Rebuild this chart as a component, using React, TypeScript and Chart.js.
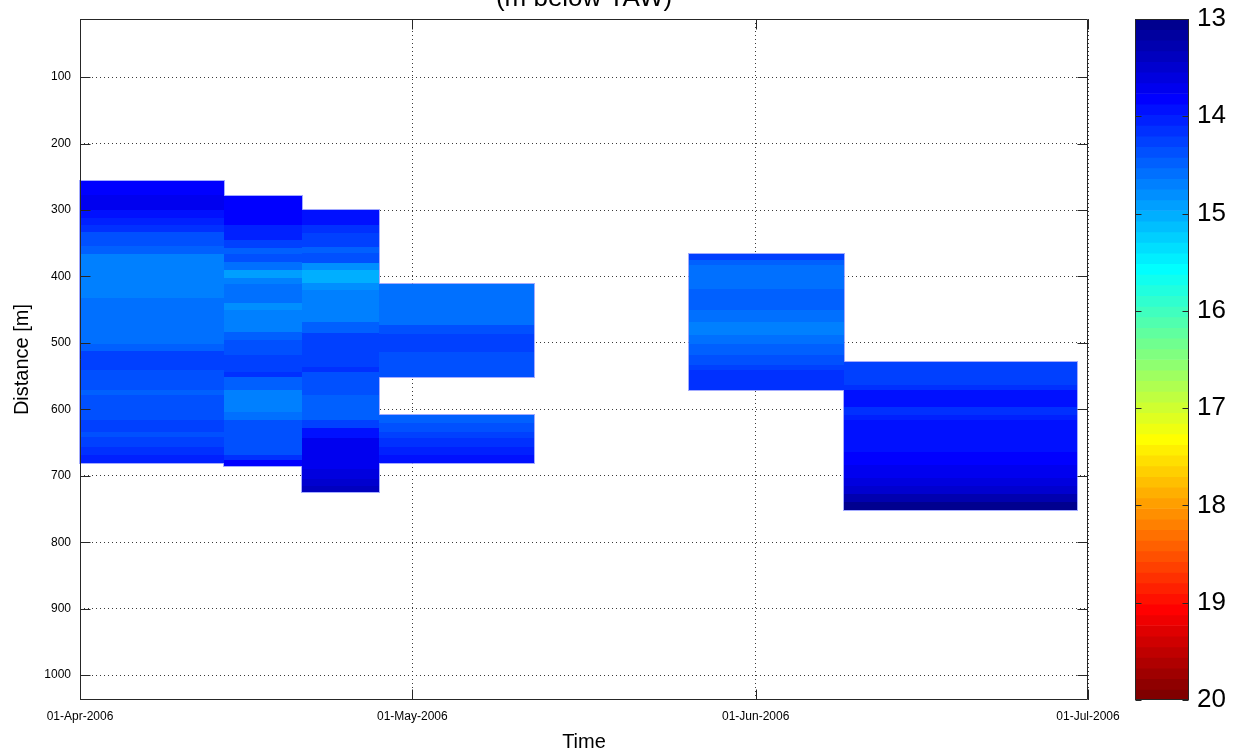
import React, { useEffect, useRef } from 'react';
import { Chart, registerables } from 'chart.js';

Chart.register(...registerables);

const FONT = "'Liberation Sans', Arial, Helvetica, sans-serif";

// ---------- axes / ticks ----------
const TITLE = '(m below TAW)';
const X_TITLE = 'Time';
const Y_TITLE = 'Distance [m]';
const X_START = '2006-04-01';
const X_END = '2006-07-01';
const X_TICK_DATES = ['2006-04-01', '2006-05-01', '2006-06-01', '2006-07-01'];
const X_TICK_LABELS = ['01-Apr-2006', '01-May-2006', '01-Jun-2006', '01-Jul-2006'];
const Y_MIN = 12.5;
const Y_MAX = 1037.5;
const Y_TICKS = [100, 200, 300, 400, 500, 600, 700, 800, 900, 1000];
const T_MIN = 13;
const T_MAX = 20;
const CB_TICKS = [13, 14, 15, 16, 17, 18, 19, 20];

// ---------- data: time columns ----------
const BLOCK_START = ['2006-04-01', '2006-04-14', '2006-04-21', '2006-04-28', '2006-05-26', '2006-06-09'];
const BLOCK_END = ['2006-04-14', '2006-04-21', '2006-04-28', '2006-05-12', '2006-06-09', '2006-06-30'];

// band edges (distance, m) and temperature per band (°C); null = no data
const BLOCK1_DEPTH = [256, 277.5, 300, 312.6, 322.7, 332.7, 354, 366.6, 433, 501.5, 511.5, 541, 571.5, 579, 596.5, 616, 634, 641.5, 657, 668, 681];
const BLOCK1_TEMP = [13.82, 13.72, 13.93, 14.04, 14.15, 14.4, 14.48, 14.7, 14.59, 14.48, 14.26, 14.37, 14.48, 14.4, 14.37, 14.26, 14.37, 14.3, 14.15, 14.04];

const BLOCK2_DEPTH = [279, 322.7, 345.3, 356.8, 366.4, 378, 390.5, 403, 412, 439.6, 450.7, 483.3, 495.8, 518.4, 530, 543.5, 551, 571, 603.7, 616.2, 669, 677, 685.5];
const BLOCK2_TEMP = [13.82, 14.04, 14.26, 14.48, 14.37, 14.59, 14.91, 14.7, 14.59, 14.8, 14.7, 14.48, 14.4, 14.3, 14.26, 14.1, 14.48, 14.7, 14.59, 14.4, 14.1, 13.85];

const BLOCK3_DEPTH = [300, 322.7, 335.2, 355.3, 365.3, 380.4, 390.5, 410.5, 420.5, 468.2, 485.8, 536, 543.5, 578.6, 616.2, 628.8, 643.8, 669, 690, 705, 715, 724];
const BLOCK3_TEMP = [13.9, 14.1, 14.26, 14.48, 14.37, 14.85, 15.02, 14.8, 14.7, 14.48, 14.26, 14.1, 14.4, 14.48, 14.26, 13.95, 13.72, 13.7, 13.6, 13.5, 13.4];

const BLOCK4_DEPTH = [411, 473.6, 486, 513.8, 551, 608, 621.2, 633.7, 643.8, 656.3, 668.8, 681.4];
const BLOCK4_TEMP = [14.59, 14.37, 14.26, 14.4, null, 14.48, 14.37, 14.26, 14.15, 14.04, 13.93];

const BLOCK5_DEPTH = [366.4, 375, 383.4, 418.6, 451.2, 468.7, 488.8, 501.4, 518.9, 533.9, 541.5, 570.6];
const BLOCK5_TEMP = [14.26, 14.48, 14.59, 14.48, 14.59, 14.7, 14.59, 14.48, 14.37, 14.26, 14.15];

const BLOCK6_DEPTH = [529.5, 564, 571.6, 596.5, 608, 616, 628, 664, 684, 704, 716, 728, 740, 752];
const BLOCK6_TEMP = [14.26, 14.15, 13.93, 14.15, 14.04, 13.98, 13.9, 13.82, 13.72, 13.6, 13.5, 13.27, 13.05];

const BLOCK_DEPTHS = [BLOCK1_DEPTH, BLOCK2_DEPTH, BLOCK3_DEPTH, BLOCK4_DEPTH, BLOCK5_DEPTH, BLOCK6_DEPTH];
const BLOCK_TEMPS: (number | null)[][] = [BLOCK1_TEMP, BLOCK2_TEMP, BLOCK3_TEMP, BLOCK4_TEMP, BLOCK5_TEMP, BLOCK6_TEMP];

// ---------- helpers ----------
const dayOf = (iso: string) => {
  const [y, m, d] = iso.split('-').map(Number);
  const [y0, m0, d0] = X_START.split('-').map(Number);
  return (Date.UTC(y, m - 1, d) - Date.UTC(y0, m0 - 1, d0)) / 86400000;
};

// MATLAB jet(64)
const jet64 = (): string[] => {
  const u = (j: number) => (j < 1 || j > 47 ? 0 : j <= 16 ? j / 16 : j <= 31 ? 1 : (48 - j) / 16);
  const out: string[] = [];
  for (let i = 1; i <= 64; i++) {
    const r = u(i - 24);
    const g = u(i - 8);
    const b = u(i + 8);
    out.push(`rgb(${Math.round(r * 255)},${Math.round(g * 255)},${Math.round(b * 255)})`);
  }
  return out;
};
const JET = jet64();
const colorFor = (t: number) => {
  let k = Math.floor(((t - T_MIN) / (T_MAX - T_MIN)) * 64);
  if (k < 0) k = 0;
  if (k > 63) k = 63;
  return JET[k];
};

const AXIS_COLOR = '#262626';

const pcolorPlugin = {
  id: 'pcolor',
  beforeDatasetsDraw(chart: any) {
    const { ctx, scales } = chart;
    const x = scales.x;
    const y = scales.y;
    const rects: { x0: number; x1: number; y0: number; y1: number; c: string }[] = [];
    const outlines: { x0: number; x1: number; y0: number; y1: number }[] = [];
    BLOCK_START.forEach((s, b) => {
      const x0 = Math.round(x.getPixelForValue(dayOf(s)));
      const x1 = Math.round(x.getPixelForValue(dayOf(BLOCK_END[b])));
      const depths = BLOCK_DEPTHS[b];
      const temps = BLOCK_TEMPS[b];
      let runStart = -1;
      for (let i = 0; i <= temps.length; i++) {
        const t = i < temps.length ? temps[i] : null;
        if (t != null) {
          if (runStart < 0) runStart = i;
          const y0 = Math.round(y.getPixelForValue(depths[i]));
          const y1 = Math.round(y.getPixelForValue(depths[i + 1]));
          rects.push({ x0, x1, y0, y1, c: colorFor(t) });
        } else if (runStart >= 0) {
          outlines.push({
            x0,
            x1,
            y0: Math.round(y.getPixelForValue(depths[runStart])),
            y1: Math.round(y.getPixelForValue(depths[i])),
          });
          runStart = -1;
        }
      }
    });
    ctx.save();
    ctx.strokeStyle = 'rgba(140,150,255,0.8)';
    ctx.lineWidth = 1;
    outlines.forEach((o) => {
      ctx.strokeRect(o.x0 - 0.5, o.y0 - 0.5, o.x1 - o.x0 + 1, o.y1 - o.y0 + 1);
    });
    rects.forEach((r) => {
      ctx.fillStyle = r.c;
      ctx.fillRect(r.x0, r.y0, r.x1 - r.x0, r.y1 - r.y0);
    });
    ctx.restore();
  },
};

const framePlugin = {
  id: 'frame',
  afterDatasetsDraw(chart: any) {
    const { ctx, chartArea: a, scales } = chart;
    const x = scales.x;
    const y = scales.y;
    const L = 10;
    const left = Math.round(a.left) + 0.5;
    const right = Math.round(a.right) - 0.5;
    const top = Math.round(a.top) + 0.5;
    const bottom = Math.round(a.bottom) - 0.5;
    ctx.save();
    ctx.strokeStyle = AXIS_COLOR;
    ctx.lineWidth = 1;
    ctx.beginPath();
    y.ticks.forEach((t: any) => {
      const py = Math.round(y.getPixelForValue(t.value)) + 0.5;
      ctx.moveTo(left, py);
      ctx.lineTo(left + L, py);
      ctx.moveTo(right, py);
      ctx.lineTo(right - L, py);
    });
    x.ticks.forEach((t: any) => {
      const px = Math.round(x.getPixelForValue(t.value)) + 0.5;
      ctx.moveTo(px, bottom);
      ctx.lineTo(px, bottom - L);
      ctx.moveTo(px, top);
      ctx.lineTo(px, top + L);
    });
    ctx.moveTo(left, top);
    ctx.lineTo(right, top);
    ctx.lineTo(right, bottom);
    ctx.lineTo(left, bottom);
    ctx.closePath();
    ctx.stroke();
    ctx.restore();
  },
};

const cbFramePlugin = {
  id: 'cbframe',
  afterDatasetsDraw(chart: any) {
    const { ctx, chartArea: a, scales } = chart;
    const y = scales.y;
    const L = 6;
    const left = Math.round(a.left) + 0.5;
    const right = Math.round(a.right) - 0.5;
    const top = Math.round(a.top) + 0.5;
    const bottom = Math.round(a.bottom) - 0.5;
    ctx.save();
    ctx.strokeStyle = AXIS_COLOR;
    ctx.lineWidth = 1;
    ctx.beginPath();
    y.ticks.forEach((t: any) => {
      const py = Math.round(y.getPixelForValue(t.value)) + 0.5;
      ctx.moveTo(left, py);
      ctx.lineTo(left + L, py);
      ctx.moveTo(right, py);
      ctx.lineTo(right - L, py);
    });
    ctx.moveTo(left, top);
    ctx.lineTo(right, top);
    ctx.lineTo(right, bottom);
    ctx.lineTo(left, bottom);
    ctx.closePath();
    ctx.stroke();
    ctx.restore();
  },
};

export default function App() {
  const mainRef = useRef<HTMLCanvasElement | null>(null);
  const cbRef = useRef<HTMLCanvasElement | null>(null);

  useEffect(() => {
    if (!mainRef.current || !cbRef.current) return;
    const gridOpts = { color: '#3a3a3a', lineWidth: 1, drawTicks: false };
    const main = new Chart(mainRef.current, {
      type: 'scatter',
      data: { datasets: [] },
      options: {
        animation: false,
        responsive: false,
        devicePixelRatio: 1,
        layout: { padding: { left: 0, right: 72, top: 0, bottom: 0 } },
        plugins: {
          legend: { display: false },
          tooltip: { enabled: false },
          title: {
            display: true,
            text: TITLE,
            fullSize: false,
            color: '#000',
            font: { family: FONT, size: 26, weight: 'normal', lineHeight: 1.2 },
            padding: { top: 3.4, bottom: 4.4 },
          },
        },
        scales: {
          x: {
            type: 'linear',
            min: dayOf(X_START),
            max: dayOf(X_END),
            afterBuildTicks: (s: any) => {
              s.ticks = X_TICK_DATES.map((d) => ({ value: dayOf(d) }));
            },
            afterFit: (s: any) => {
              s.height = 56;
            },
            ticks: {
              autoSkip: false,
              maxRotation: 0,
              minRotation: 0,
              padding: 9,
              color: '#000',
              font: { family: FONT, size: 12 },
              callback: (_v: any, i: number) => X_TICK_LABELS[i],
            },
            grid: gridOpts,
            border: { display: false, dash: [1, 3] },
            title: {
              display: true,
              text: X_TITLE,
              color: '#000',
              font: { family: FONT, size: 20 },
              padding: { top: 0, bottom: 2 },
            },
          },
          y: {
            type: 'linear',
            reverse: true,
            min: Y_MIN,
            max: Y_MAX,
            afterBuildTicks: (s: any) => {
              s.ticks = Y_TICKS.map((v) => ({ value: v }));
            },
            afterFit: (s: any) => {
              s.width = 80;
            },
            ticks: {
              autoSkip: false,
              padding: 9,
              color: '#000',
              font: { family: FONT, size: 12 },
              callback: (v: any) => String(v),
            },
            grid: gridOpts,
            border: { display: false, dash: [1, 3] },
            title: {
              display: true,
              text: Y_TITLE,
              color: '#000',
              font: { family: FONT, size: 20 },
              padding: { top: 10, bottom: 0 },
            },
          },
        },
      } as any,
      plugins: [pcolorPlugin, framePlugin],
    });

    const cb = new Chart(cbRef.current, {
      type: 'bar',
      data: {
        labels: [''],
        datasets: JET.map((c, i) => ({
          data: [[T_MIN + ((T_MAX - T_MIN) * i) / 64, T_MIN + ((T_MAX - T_MIN) * (i + 1)) / 64]],
          backgroundColor: c,
          borderWidth: 0,
          barPercentage: 1,
          categoryPercentage: 1,
          grouped: false,
        })) as any,
      },
      options: {
        animation: false,
        responsive: false,
        devicePixelRatio: 1,
        layout: { padding: { left: 35, right: 0, top: 19, bottom: 56 } },
        plugins: { legend: { display: false }, tooltip: { enabled: false }, title: { display: false } },
        scales: {
          x: { display: false },
          y: {
            position: 'right',
            reverse: true,
            min: T_MIN,
            max: T_MAX,
            afterBuildTicks: (s: any) => {
              s.ticks = CB_TICKS.map((v) => ({ value: v }));
            },
            afterFit: (s: any) => {
              s.width = 48;
              s.paddingTop = 0;
              s.paddingBottom = 0;
            },
            ticks: {
              padding: 8,
              color: '#000',
              font: { family: FONT, size: 26 },
              callback: (v: any) => String(v),
            },
            grid: { display: false, drawTicks: false },
            border: { display: false },
          },
        },
      } as any,
      plugins: [cbFramePlugin],
    });

    return () => {
      main.destroy();
      cb.destroy();
    };
  }, []);

  return (
    <div
      style={{
        position: 'fixed',
        left: 0,
        top: 0,
        width: 1237,
        height: 756,
        background: '#fff',
        overflow: 'hidden',
      }}
    >
      <canvas
        ref={mainRef}
        width={1160}
        height={776}
        style={{ position: 'absolute', left: 0, top: -20, width: 1160, height: 776 }}
      />
      <canvas
        ref={cbRef}
        width={137}
        height={756}
        style={{ position: 'absolute', left: 1100, top: 0, width: 137, height: 756 }}
      />
    </div>
  );
}
